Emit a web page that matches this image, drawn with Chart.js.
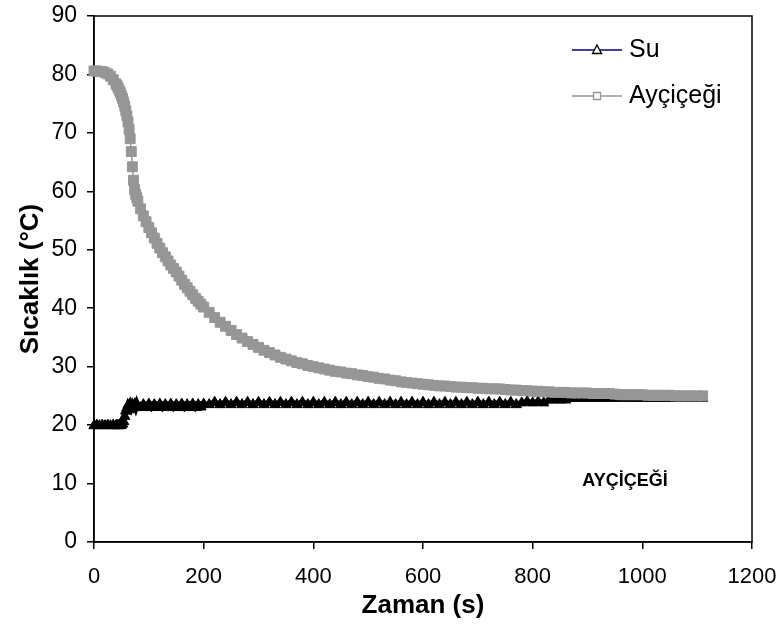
<!DOCTYPE html>
<html>
<head>
<meta charset="utf-8">
<script src="https://cdn.jsdelivr.net/npm/chart.js@4.4.0/dist/chart.umd.min.js"></script>
<style>
  html, body { margin: 0; padding: 0; background: #fff; }
  #wrap { width: 779px; height: 632px; }
</style>
</head>
<body>
<div id="wrap"><canvas id="myChart" width="779" height="632"></canvas></div>
<script>
// time (s)
var times = [0, 5, 10, 15, 20, 25, 30, 35, 40,
  42, 44, 46, 48, 50, 52, 54, 56, 58, 60, 62, 64, 66, 68, 70, 72, 74, 76, 78, 80,
  85, 90, 95, 100, 105, 110, 115, 120, 125, 130, 135, 140, 145, 150, 155, 160, 165, 170, 175, 180, 185, 190, 195, 200,
  210, 220, 230, 240, 250, 260, 270, 280, 290, 300, 310, 320, 330, 340, 350, 360, 370, 380, 390, 400,
  410, 420, 430, 440, 450, 460, 470, 480, 490, 500, 510, 520, 530, 540, 550, 560, 570, 580, 590, 600,
  610, 620, 630, 640, 650, 660, 670, 680, 690, 700, 710, 720, 730, 740, 750, 760, 770, 780, 790, 800,
  810, 820, 830, 840, 850, 860, 870, 880, 890, 900, 910, 920, 930, 940, 950, 960, 970, 980, 990, 1000,
  1010, 1020, 1030, 1040, 1050, 1060, 1070, 1080, 1090, 1100, 1110];

// Su (water) temperature
var su = [19.9, 20.0, 19.9, 20.0, 19.9, 20.0, 19.9, 20.0, 19.9,
  20.0, 19.9, 20.0, 19.9, 20.0, 20.2, 20.6, 21.5, 22.4, 22.9, 23.4, 23.0, 23.5, 23.0, 23.5, 23.1, 23.5, 23.0, 23.6, 23.1,
  23.0, 23.5, 23.1, 23.6, 23.0, 23.5, 23.1, 23.6, 23.0, 23.5, 23.1, 23.6, 23.0, 23.5, 23.1, 23.6, 23.0, 23.5, 23.1, 23.6, 23.0, 23.5, 23.1, 23.6,
  23.5, 23.9, 23.5, 23.9, 23.5, 23.9, 23.5, 23.9, 23.5, 23.9, 23.5, 23.9, 23.5, 23.9, 23.5, 23.9, 23.5, 23.9, 23.5, 23.9,
  23.5, 23.9, 23.5, 23.9, 23.5, 23.9, 23.5, 23.9, 23.5, 23.9, 23.5, 23.9, 23.5, 23.9, 23.5, 23.9, 23.5, 23.9, 23.5, 23.9,
  23.5, 23.9, 23.5, 23.9, 23.5, 23.9, 23.5, 23.9, 23.5, 23.9, 23.5, 23.9, 23.5, 23.9, 23.5, 23.9, 23.5, 23.8, 24.0, 23.8,
  24.0, 23.8, 24.3, 24.3, 24.3, 24.3, 24.6, 24.6, 24.6, 24.6, 24.6, 24.6, 24.6, 24.6, 24.6, 24.6, 24.6, 24.6, 24.6, 24.6,
  24.6, 24.6, 24.6, 24.6, 24.6, 24.6, 24.6, 24.6, 24.6, 24.6, 24.6];

// Ayçiçeği (sunflower oil) temperature
var aycicegi = [80.6, 80.6, 80.5, 80.5, 80.3, 80.1, 79.7, 79.1, 78.4,
  78.1, 77.7, 77.3, 76.9, 76.4, 75.9, 75.3, 74.6, 73.8, 72.9, 71.9, 70.6, 69.0, 66.8, 64.2, 61.9, 60.3, 59.5, 58.9, 58.3,
  57.0, 55.8, 54.8, 53.8, 52.9, 52.0, 51.1, 50.3, 49.5, 48.8, 48.1, 47.4, 46.8, 46.2, 45.5, 44.8, 44.1, 43.5, 42.9, 42.3, 41.7, 41.2, 40.7, 40.2,
  39.3, 38.4, 37.6, 36.9, 36.2, 35.5, 34.9, 34.3, 33.8, 33.3, 32.8, 32.4, 32.0, 31.6, 31.3, 31.0, 30.7, 30.5, 30.2, 30.0,
  29.8, 29.6, 29.4, 29.2, 29.1, 28.9, 28.8, 28.6, 28.5, 28.3, 28.2, 28.0, 27.9, 27.7, 27.6, 27.4, 27.3, 27.2, 27.1, 27.0,
  26.9, 26.8, 26.7, 26.7, 26.6, 26.5, 26.5, 26.4, 26.4, 26.3, 26.3, 26.2, 26.2, 26.2, 26.1, 26.0, 26.0, 25.9, 25.9, 25.8,
  25.8, 25.7, 25.7, 25.6, 25.6, 25.6, 25.5, 25.5, 25.5, 25.5, 25.4, 25.4, 25.4, 25.4, 25.3, 25.2, 25.2, 25.2, 25.2, 25.2,
  25.1, 25.1, 25.1, 25.1, 25.1, 25.0, 25.0, 25.0, 25.0, 25.0, 25.0];

var xTicks = [0, 200, 400, 600, 800, 1000, 1200];
var yTicks = [0, 10, 20, 30, 40, 50, 60, 70, 80, 90];

function toPoints(vals) {
  var pts = [];
  for (var i = 0; i < vals.length; i++) {
    pts.push({x: times[i], y: vals[i]});
  }
  return pts;
}

var FONT = "'Liberation Sans', Arial, sans-serif";
Chart.defaults.font.family = FONT;
Chart.defaults.color = '#000';

// frame, legend and label drawn on the canvas
var extras = {
  id: 'extras',
  beforeDatasetsDraw: function(chart) {
    var a = chart.chartArea, ctx = chart.ctx;
    ctx.save();
    ctx.strokeStyle = '#000';
    ctx.lineWidth = 1.5;
    ctx.strokeRect(a.left, a.top, a.right - a.left, a.bottom - a.top);
    ctx.restore();
  },
  afterDraw: function(chart) {
    var ctx = chart.ctx;
    ctx.save();
    // legend
    var rows = [
      {label: 'Su', line: '#000080', mark: '#000', style: 'triangle', y: 50},
      {label: 'Ayçiçeği', line: '#969696', mark: '#969696', style: 'rect', y: 96}
    ];
    rows.forEach(function(r) {
      ctx.strokeStyle = r.line;
      ctx.lineWidth = 1.5;
      ctx.beginPath();
      ctx.moveTo(572, r.y);
      ctx.lineTo(622, r.y);
      ctx.stroke();
      ctx.fillStyle = '#fff';
      ctx.strokeStyle = r.mark;
      ctx.lineWidth = 1.3;
      ctx.beginPath();
      if (r.style === 'triangle') {
        ctx.moveTo(597, r.y - 5);
        ctx.lineTo(601.5, r.y + 3.5);
        ctx.lineTo(592.5, r.y + 3.5);
        ctx.closePath();
      } else {
        ctx.rect(593.5, r.y - 3.5, 7, 7);
      }
      ctx.fill();
      ctx.stroke();
      ctx.fillStyle = '#000';
      ctx.font = '25px ' + FONT;
      ctx.textBaseline = 'middle';
      ctx.textAlign = 'left';
      ctx.fillText(r.label, 629, r.y);
    });
    // label
    ctx.font = 'bold 18px ' + FONT;
    ctx.textAlign = 'center';
    ctx.fillText('AYÇİÇEĞİ', 625, 481);
    ctx.restore();
  }
};

new Chart(document.getElementById('myChart'), {
  type: 'line',
  data: {
    datasets: [{
      label: 'Ayçiçeği',
      data: toPoints(aycicegi),
      borderColor: '#969696',
      borderWidth: 1.5,
      pointStyle: 'rect',
      pointRadius: 7,
      pointBorderColor: '#969696',
      pointBackgroundColor: '#969696',
      pointBorderWidth: 1,
      clip: false
    }, {
      label: 'Su',
      data: toPoints(su),
      borderColor: '#000',
      borderWidth: 6,
      pointStyle: 'triangle',
      pointRadius: 6,
      pointBorderColor: '#000',
      pointBackgroundColor: '#000',
      pointBorderWidth: 1,
      clip: false
    }]
  },
  options: {
    responsive: false,
    animation: false,
    layout: {padding: {top: 16, right: 27, left: 0, bottom: 0}},
    plugins: {legend: {display: false}, tooltip: {enabled: false}},
    elements: {line: {tension: 0}},
    scales: {
      x: {
        type: 'linear',
        min: 0,
        max: 1200,
        afterBuildTicks: function(s) { s.ticks = xTicks.map(function(v) { return {value: v}; }); },
        afterFit: function(s) { s.height = 90; s.paddingLeft = 0; s.paddingRight = 0; },
        grid: {display: true, drawOnChartArea: false, drawTicks: true, tickLength: 7, color: '#000', lineWidth: 1.5},
        border: {display: true, color: '#000', width: 1.5},
        ticks: {font: {size: 22}, color: '#000', padding: 15, maxRotation: 0,
          callback: function(v) { return String(v); }},
        title: {display: true, text: 'Zaman (s)', font: {size: 26, weight: 'bold'}, color: '#000', padding: {top: 0, bottom: 11}}
      },
      y: {
        min: 0,
        max: 90,
        afterBuildTicks: function(s) { s.ticks = yTicks.map(function(v) { return {value: v}; }); },
        afterFit: function(s) { s.width = 94; s.paddingTop = 0; s.paddingBottom = 0; },
        grid: {display: true, drawOnChartArea: false, drawTicks: true, tickLength: 7, color: '#000', lineWidth: 1.5},
        border: {display: true, color: '#000', width: 1.5},
        ticks: {font: {size: 23}, color: '#000', padding: 10, callback: function(v) { return String(v); }},
        title: {display: true, text: 'Sıcaklık (°C)', font: {size: 26, weight: 'bold'}, color: '#000', padding: {top: 15, bottom: 0}}
      }
    }
  },
  plugins: [extras]
});
</script>
</body>
</html>
